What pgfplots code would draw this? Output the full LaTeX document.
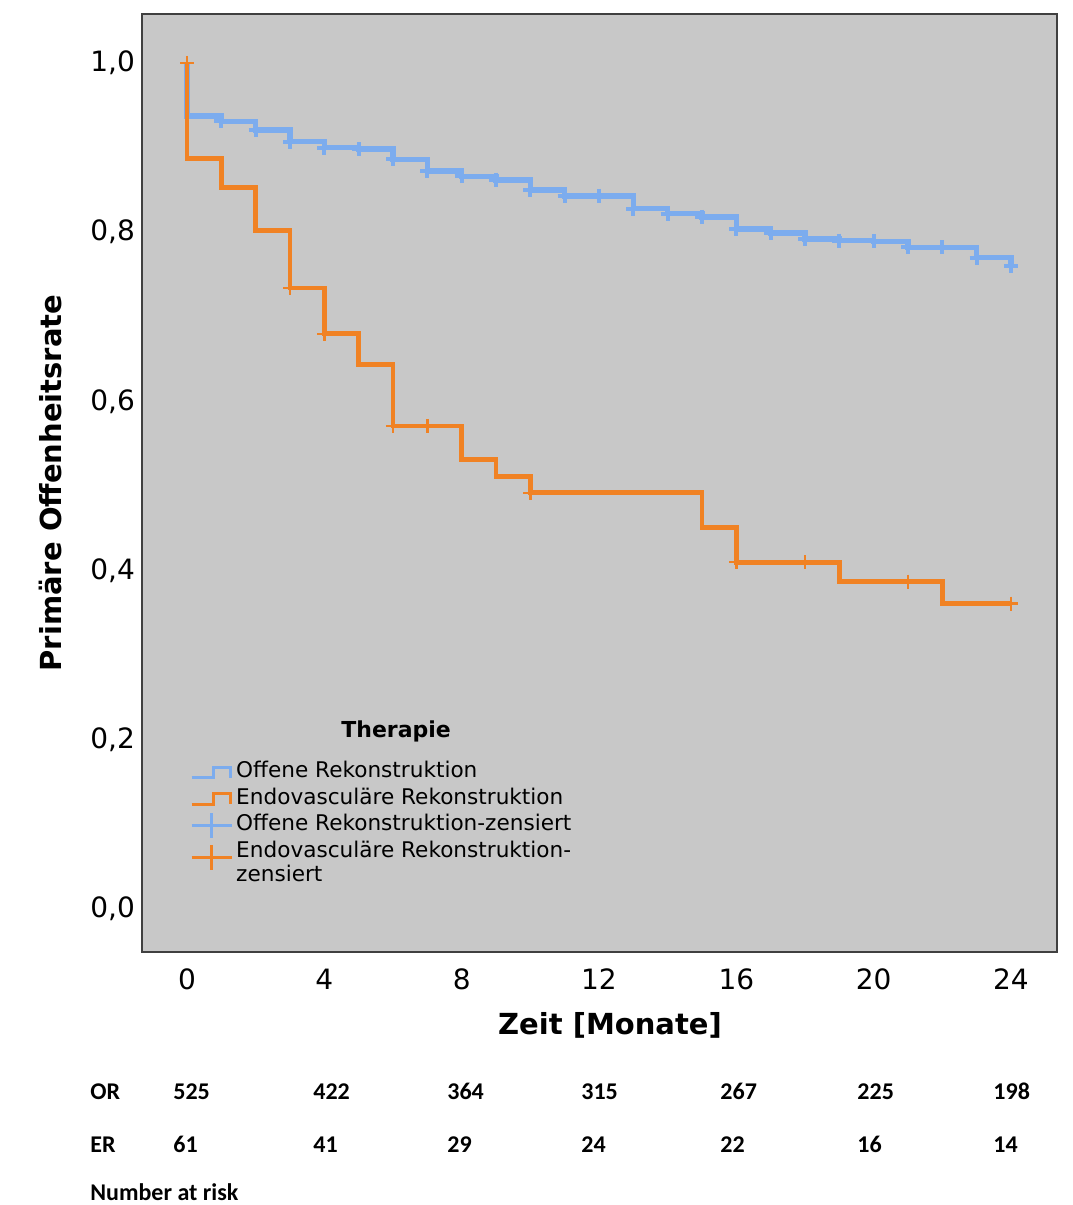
\documentclass[border=0pt]{standalone}
\usepackage{pgfplots}
\pgfplotsset{compat=1.18}
\usepackage{fontspec}
\setmainfont{DejaVu Sans}
\newfontfamily\calibri{Carlito}
\definecolor{kmblue}{RGB}{124,172,238}
\definecolor{kmorange}{RGB}{240,130,36}
\definecolor{bggray}{RGB}{200,200,200}
\definecolor{framegray}{RGB}{64,64,64}
\begin{document}
\begin{tikzpicture}
\begin{axis}[
  scale only axis, width=457.5pt, height=469pt,
  xmin=-1.311, xmax=25.34, ymin=-0.0508, ymax=1.0579,
  xtick={0,4,8,12,16,20,24}, ytick={0,0.2,0.4,0.6,0.8,1.0},
  major tick length=0pt,
  axis background/.style={fill=bggray},
  axis line style={draw=framegray, line width=1pt},
  /pgf/number format/assume math mode=true,
  tick label style={font=\fontsize{14}{16}\selectfont},
  yticklabel style={/pgf/number format/.cd, fixed, fixed zerofill, precision=1, use comma},
  xticklabel style={yshift=-5pt},
  xlabel={Zeit [Monate]}, ylabel={Primäre Offenheitsrate},
  label style={font=\bfseries\fontsize{14.5}{17}\selectfont},
  xlabel style={at={(axis description cs:0.5115,-0.0778)}, anchor=center},
  ylabel style={at={(axis description cs:-0.1005,0.5)}, anchor=center},
  clip=false,
  legend style={at={(axis description cs:0.0525,0.2026)}, anchor=north west,
    draw=none, fill=none, inner sep=0pt, outer sep=0pt, row sep=2.75pt, column sep=0pt,
    font=\fontsize{10.8}{13}\selectfont,
    nodes={inner xsep=1.5pt, inner ysep=0pt},
    cells={anchor=west}},
]
\addplot[kmorange, line width=2.4pt, const plot, forget plot] coordinates {(0,1.0)(0,0.937)};
\addplot[kmblue, line width=2.8pt, const plot,
  legend image code/.code={\draw[kmblue, line width=1.6pt] (0pt,-2.6pt) -- (11pt,-2.6pt) -- (11pt,2.6pt) -- (19.5pt,2.6pt) -- (19.5pt,-2.6pt);}]
  coordinates {(0,1.0)(0,0.937)(1,0.931)(2,0.921)(3,0.907)(4,0.900)(5,0.898)(6,0.886)(7,0.872)(8,0.866)(9,0.862)(10,0.850)(11,0.843)(12,0.843)(13,0.828)(14,0.822)(15,0.818)(16,0.804)(17,0.799)(18,0.792)(19,0.790)(20,0.789)(21,0.782)(22,0.782)(23,0.770)(24,0.760)};
\addlegendentry[text height=8pt, text depth=2.5pt]{Offene Rekonstruktion}
\addplot[kmorange, line width=2.4pt, const plot,
  legend image code/.code={\draw[kmorange, line width=1.6pt] (0pt,-2.6pt) -- (11pt,-2.6pt) -- (11pt,2.6pt) -- (19.5pt,2.6pt) -- (19.5pt,-2.6pt);}]
  coordinates {(0,1.0)(0,0.887)(1,0.853)(2,0.802)(3,0.734)(4,0.680)(5,0.644)(6,0.571)(8,0.531)(9,0.511)(10,0.492)(15,0.451)(16,0.410)(19,0.387)(22,0.361)(24,0.361)};
\addlegendentry[text height=8pt, text depth=2.5pt]{Endovasculäre Rekonstruktion}
\addplot[only marks, mark=+, mark size=3.5pt, kmblue, mark options={line width=2pt},
  legend image code/.code={\draw[kmblue, line width=1.6pt] (0pt,0pt) -- (20pt,0pt); \draw[kmblue, line width=1.6pt, overlay] (10pt,-6.25pt) -- (10pt,6.25pt);}]
  coordinates {(1,0.931)(2,0.921)(3,0.907)(4,0.900)(5,0.898)(6,0.886)(7,0.872)(8,0.866)(9,0.862)(10,0.850)(11,0.843)(12,0.843)(13,0.828)(14,0.822)(15,0.818)(16,0.804)(17,0.799)(18,0.792)(19,0.790)(20,0.789)(21,0.782)(22,0.782)(23,0.770)(24,0.760)};
\addlegendentry[text height=8pt, text depth=2.5pt]{Offene Rekonstruktion-zensiert}
\addplot[only marks, mark=+, mark size=3.5pt, kmorange, mark options={line width=1.2pt},
  legend image code/.code={\draw[kmorange, line width=1.6pt] (0pt,0pt) -- (20pt,0pt); \draw[kmorange, line width=1.6pt, overlay] (10pt,-6.25pt) -- (10pt,6.25pt);}]
  coordinates {(0,1.0)(3,0.734)(4,0.680)(6,0.571)(7,0.571)(10,0.492)(16,0.410)(18,0.410)(21,0.387)(24,0.361)};
\addlegendentry{{\renewcommand\arraystretch{0.885}\begin{tabular}{@{}l@{}}Endovasculäre Rekonstruktion-\\zensiert\end{tabular}}}
\node[font=\bfseries\fontsize{11}{13}\selectfont] at (axis cs:6.09,0.2104) {Therapie};
% Number at risk
\begin{scope}[every node/.style={anchor=base west, inner sep=0pt, font=\calibri\bfseries\fontsize{12}{14}\selectfont}]
\node at (axis cs:-2.826,-0.2246) {OR};
\node at (axis cs:-0.408,-0.2246) {525};
\node at (axis cs:3.670,-0.2246) {422};
\node at (axis cs:7.573,-0.2246) {364};
\node at (axis cs:11.476,-0.2246) {315};
\node at (axis cs:15.525,-0.2246) {267};
\node at (axis cs:19.516,-0.2246) {225};
\node at (axis cs:23.478,-0.2246) {198};
\node at (axis cs:-2.826,-0.2872) {ER};
\node at (axis cs:-0.408,-0.2872) {61};
\node at (axis cs:3.670,-0.2872) {41};
\node at (axis cs:7.573,-0.2872) {29};
\node at (axis cs:11.476,-0.2872) {24};
\node at (axis cs:15.525,-0.2872) {22};
\node at (axis cs:19.516,-0.2872) {16};
\node at (axis cs:23.478,-0.2872) {14};
\node at (axis cs:-2.826,-0.3450) {Number at risk};
\end{scope}
\end{axis}
\path ([xshift=-71pt,yshift=-126.5pt]current axis.south west) rectangle ([xshift=7.5pt,yshift=7pt]current axis.north east);
\end{tikzpicture}
\end{document}
